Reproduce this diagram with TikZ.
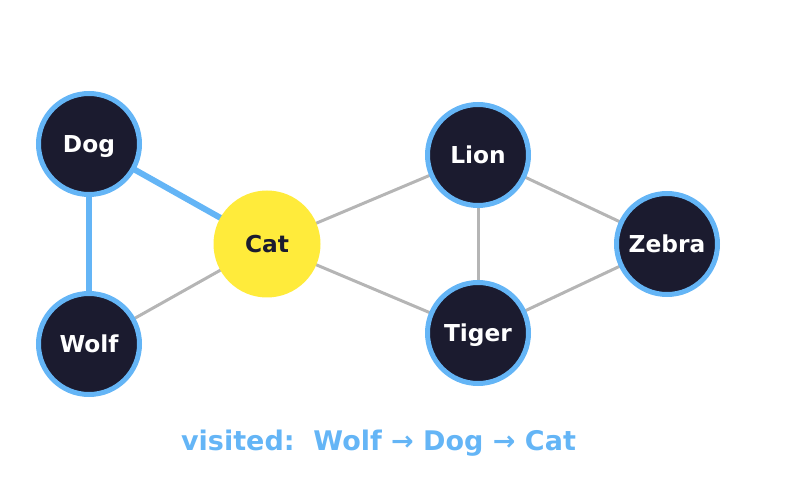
\documentclass[tikz,border=0pt]{standalone}
\usepackage{fontspec}
\setmainfont{DejaVu Sans}
\usetikzlibrary{backgrounds}
\definecolor{navy}{HTML}{1B1B2F}
\definecolor{vblue}{HTML}{64B5F6}
\definecolor{vyellow}{HTML}{FFEB3B}
\definecolor{egray}{HTML}{B5B5B5}
\tikzset{
  label font/.style={font=\fontsize{23.3}{27}\selectfont\bfseries, text height=17pt, text depth=0pt},
  animal/.style={circle, fill=navy, draw=vblue, line width=5pt, minimum size=101pt, inner sep=0pt, text=white, label font},
  current/.style={circle, fill=vyellow, minimum size=107pt, inner sep=0pt, text=navy, label font},
  plain/.style={draw=egray, line width=3pt},
  visited/.style={draw=vblue, line width=6pt},
}
\begin{document}
\begin{tikzpicture}[x=1pt,y=-1pt]
\useasboundingbox (0,0) rectangle (812,489);
\node[animal] (dog) at (89,144) {Dog};
\node[animal] (wolf) at (89,344) {Wolf};
\node[current] (cat) at (267,244) {Cat};
\node[animal] (lion) at (478,155) {Lion};
\node[animal] (tiger) at (478,333) {Tiger};
\node[animal] (zebra) at (667,244) {Zebra};
\begin{scope}[on background layer]
\draw[visited] (dog.center) -- (wolf.center);
\draw[visited] (dog.center) -- (cat.center);
\draw[plain] (wolf.center) -- (cat.center);
\draw[plain] (cat.center) -- (lion.center);
\draw[plain] (cat.center) -- (tiger.center);
\draw[plain] (lion.center) -- (tiger.center);
\draw[plain] (lion.center) -- (zebra.center);
\draw[plain] (tiger.center) -- (zebra.center);
\end{scope}
\node[text=vblue, font=\fontsize{27}{31}\selectfont\bfseries, text height=19.7pt, text depth=0pt, inner sep=0pt] (caption) at (378.5,441) {visited:\ \ Wolf → Dog → Cat};
\end{tikzpicture}
\end{document}
